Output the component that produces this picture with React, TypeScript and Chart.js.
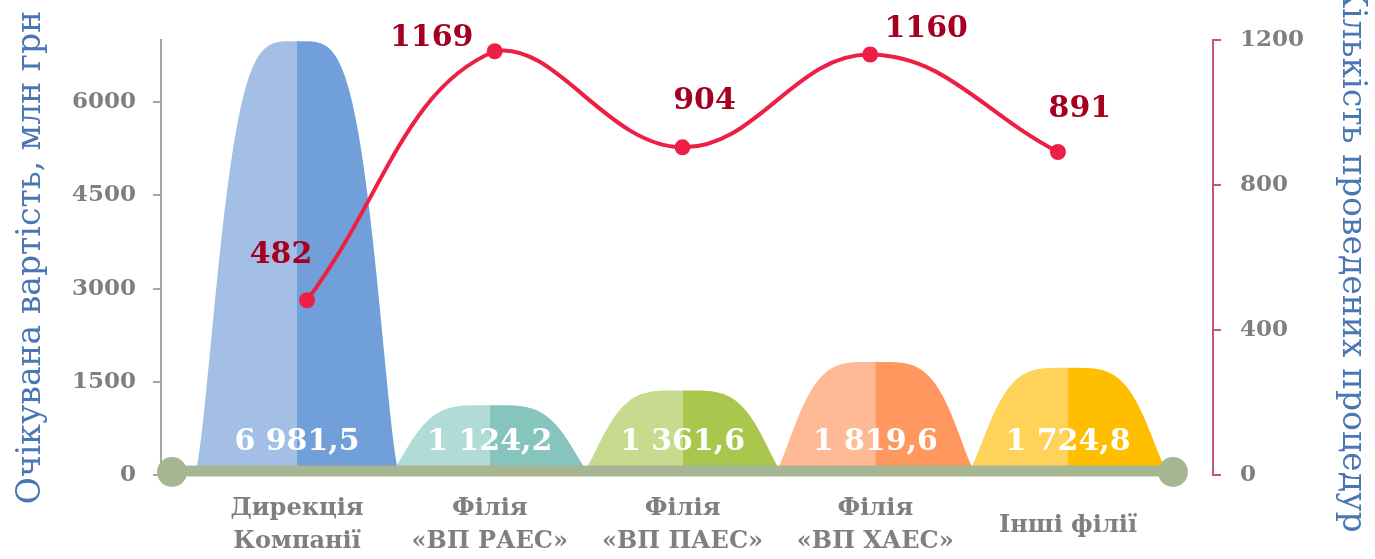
import React, { useEffect, useRef } from 'react';
import { Chart, registerables } from 'chart.js';

Chart.register(...registerables);

// ---- data ----
const categories: (string[])[] = [
  ['Дирекція', 'Компанії'],
  ['Філія', '«ВП РАЕС»'],
  ['Філія', '«ВП ПАЕС»'],
  ['Філія', '«ВП ХАЕС»'],
  ['Інші філії'],
];
const expectedCost = [6981.5, 1124.2, 1361.6, 1819.6, 1724.8];
const procedureCount = [482, 1169, 904, 1160, 891];
const costTicks = [0, 1500, 3000, 4500, 6000];
const countTicks = [0, 400, 800, 1200];
const costTitle = 'Очікувана вартість, млн грн';
const countTitle = 'Кількість проведених процедур';

// ---- styles ----
const lightColors = ['#a3bfe6', '#b0dbd6', '#c7da8e', '#ffb995', '#ffd25a'];
const darkColors = ['#719fda', '#86c5be', '#a9c74c', '#ff975e', '#ffbf00'];
const countLabelOffsets = [
  [-26, -45],
  [-63, -13],
  [22, -46],
  [56, -25],
  [22, -43],
];
const SERIF = "'DejaVu Serif', 'Liberation Serif', serif";
const LINE_COLOR = '#ee1f45';
const BAND_COLOR = '#a6b592';

function fmt(v: number): string {
  const [i, d] = v.toFixed(1).split('.');
  return i.replace(/\B(?=(\d{3})+(?!\d))/g, ' ') + ',' + d;
}

// bell profile: u in [0,1] (distance from centre / half width) -> height fraction
function profile(u: number): number {
  return Math.pow(Math.max(0, 1 - Math.pow(u, 4)), 1.78);
}

const bellPlugin = {
  id: 'bells',
  beforeDatasetsDraw(chart: any) {
    const ctx = chart.ctx;
    const xs = chart.scales.x;
    const yScale = chart.scales.y;
    const zero = yScale.getPixelForValue(0);
    const area = chart.chartArea;
    const step = xs.getPixelForValue(1) - xs.getPixelForValue(0);
    const hw = (step / 2) * 1.07;
    ctx.save();
    expectedCost.forEach((v, i) => {
      const x = xs.getPixelForValue(i);
      const y = yScale.getPixelForValue(v);
      const H = zero - y;
      const N = 100;
      ctx.beginPath();
      ctx.moveTo(x - hw, zero);
      for (let k = 0; k <= N; k++) {
        const u = 1 - k / N;
        ctx.lineTo(x - u * hw, zero - profile(u) * H);
      }
      ctx.lineTo(x, zero);
      ctx.closePath();
      ctx.fillStyle = lightColors[i];
      ctx.fill();
      ctx.beginPath();
      ctx.moveTo(x, zero);
      for (let k = 0; k <= N; k++) {
        const u = k / N;
        ctx.lineTo(x + u * hw, zero - profile(u) * H);
      }
      ctx.lineTo(x + hw, zero);
      ctx.closePath();
      ctx.fillStyle = darkColors[i];
      ctx.fill();
    });
    // baseline band with round ends
    const bandY = zero - 4;
    const x0 = area.left + 11;
    const x1 = area.right - 40;
    ctx.strokeStyle = BAND_COLOR;
    ctx.lineWidth = 11;
    ctx.lineCap = 'butt';
    ctx.beginPath();
    ctx.moveTo(x0, bandY);
    ctx.lineTo(x1, bandY);
    ctx.stroke();
    ctx.fillStyle = BAND_COLOR;
    [x0, x1].forEach((cx) => {
      ctx.beginPath();
      ctx.arc(cx, bandY + 1, 15, 0, Math.PI * 2);
      ctx.fill();
    });
    // value labels in bells
    ctx.font = `bold 30px ${SERIF}`;
    ctx.fillStyle = '#ffffff';
    ctx.textAlign = 'center';
    ctx.textBaseline = 'middle';
    expectedCost.forEach((v, i) => {
      ctx.fillText(fmt(v), xs.getPixelForValue(i), zero - 33);
    });
    ctx.restore();
  },
  afterDatasetsDraw(chart: any) {
    const ctx = chart.ctx;
    const meta = chart.getDatasetMeta(1);
    ctx.save();
    ctx.font = `bold 30px ${SERIF}`;
    ctx.fillStyle = '#a50021';
    ctx.textAlign = 'center';
    ctx.textBaseline = 'middle';
    meta.data.forEach((pt: any, i: number) => {
      const { x, y } = pt.getProps(['x', 'y'], true);
      const [dx, dy] = countLabelOffsets[i];
      ctx.fillText(String(procedureCount[i]), x + dx, y + dy);
    });
    ctx.restore();
  },
};

export default function App() {
  const ref = useRef<HTMLCanvasElement | null>(null);
  useEffect(() => {
    if (!ref.current) return;
    const tickFont = { family: SERIF, weight: 'bold' as const, size: 23 };
    const chart = new Chart(ref.current, {
      type: 'line',
      data: {
        datasets: [
          {
            type: 'bar',
            label: costTitle,
            data: expectedCost.map((v, i) => ({ x: i, y: v })),
            xAxisID: 'x',
            yAxisID: 'y',
            backgroundColor: 'rgba(0,0,0,0)',
            borderWidth: 0,
            barPercentage: 1,
            categoryPercentage: 1,
            grouped: false,
            order: 2,
          } as any,
          {
            type: 'line',
            label: countTitle,
            data: procedureCount.map((v, i) => ({ x: i, y: v })),
            xAxisID: 'x2',
            yAxisID: 'y1',
            borderColor: LINE_COLOR,
            borderWidth: 4,
            pointRadius: 8,
            pointBackgroundColor: LINE_COLOR,
            pointBorderWidth: 0,
            tension: 0.4,
            order: 1,
          } as any,
        ],
      },
      options: {
        animation: false,
        responsive: false,
        devicePixelRatio: 1,
        layout: { padding: { top: 40, left: 0, right: 0, bottom: 0 } },
        plugins: { legend: { display: false }, tooltip: { enabled: false } },
        scales: {
          x: {
            type: 'linear',
            position: 'bottom',
            min: -0.7056,
            max: 4.752,
            offset: false,
            afterBuildTicks: (s: any) => {
              s.ticks = categories.map((_, i) => ({ value: i }));
            },
            afterFit: (s: any) => {
              s.height = 84;
            },
            grid: { display: false, offset: false },
            border: { display: false },
            ticks: {
              autoSkip: false,
              maxRotation: 0,
              minRotation: 0,
              padding: 26,
              crossAlign: 'center',
              color: '#7f7f7f',
              font: { family: SERIF, weight: 'bold', size: 24, lineHeight: 1.38 },
              callback: (v: any) => categories[Math.round(Number(v))] ?? '',
            },
          } as any,
          x2: {
            type: 'linear',
            display: false,
            min: -0.7776,
            max: 4.826,
            offset: false,
          } as any,
          y: {
            type: 'linear',
            position: 'left',
            min: 0,
            max: 7000,
            afterBuildTicks: (s: any) => {
              s.ticks = costTicks.map((v) => ({ value: v }));
            },
            afterFit: (s: any) => {
              s.width = 161;
            },
            grid: {
              drawOnChartArea: false,
              drawTicks: true,
              tickLength: 8,
              color: '#a6a6a6',
              lineWidth: 2,
            },
            border: { color: '#a6a6a6', width: 2 },
            ticks: { color: '#7f7f7f', padding: 17, font: tickFont, callback: (v: any) => String(v) },
            title: {
              display: true,
              text: costTitle,
              color: '#4a77b4',
              font: { family: SERIF, size: 33 },
              padding: { top: 12, bottom: 0 },
            },
          } as any,
          y1: {
            type: 'linear',
            position: 'right',
            min: 0,
            max: 1200,
            afterBuildTicks: (s: any) => {
              s.ticks = countTicks.map((v) => ({ value: v }));
            },
            afterFit: (s: any) => {
              s.width = 162;
            },
            grid: {
              drawOnChartArea: false,
              drawTicks: true,
              tickLength: 8,
              color: '#c0587a',
              lineWidth: 2,
            },
            border: { color: '#c0587a', width: 2 },
            ticks: { color: '#7f7f7f', padding: 19, font: tickFont, callback: (v: any) => String(v) },
            title: {
              display: true,
              text: countTitle,
              color: '#4a77b4',
              font: { family: SERIF, size: 33 },
              padding: { top: 4, bottom: 0 },
            },
          } as any,
        },
      },
      plugins: [bellPlugin],
    });
    return () => chart.destroy();
  }, []);
  return (
    <div style={{ position: 'absolute', left: 0, top: 0, width: 1375, height: 559, background: '#ffffff' }}>
      <canvas ref={ref} width={1375} height={559} />
    </div>
  );
}
